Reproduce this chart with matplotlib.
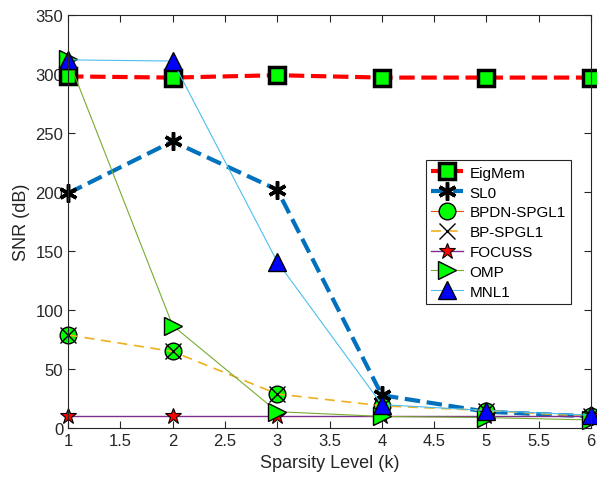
import matplotlib
matplotlib.use('Agg')
import matplotlib.pyplot as plt

# sparsity levels
k = [1, 2, 3, 4, 5, 6]

eigmem = [298, 297, 299, 297, 297, 297]
sl0 = [199, 243, 202, 28, 14, 10]
bpdn = [79, 65, 29, 19, 15, 10]
bp = [79, 65, 29, 19, 15, 10]
focuss = [10, 10, 10, 10, 10, 10]
omp = [313, 87, 14, 10, 9, 7]
mnl1 = [312, 311, 141, 20, 15, 11]

plt.rcParams['font.family'] = ['Liberation Sans', 'DejaVu Sans']

fig = plt.figure(figsize=(5.97, 4.85), dpi=100)
ax = fig.add_axes([0.114, 0.115, 0.876, 0.852])

ax.plot(k, eigmem, '--s', color='red', lw=3, ms=11, mfc=(0, 1, 0), mec='black', mew=2.5, label='EigMem')
ax.plot(k, sl0, '--', marker=(6, 2, 0), color=(0, 0.447, 0.741), lw=3, ms=13, mfc='black', mec='black', mew=2.5, label='SL0')
l_bpdn, = ax.plot(k, bpdn, '-o', color=(0.85, 0.325, 0.098), lw=0.8, ms=12, mfc=(0, 1, 0), mec='black', mew=1, label='BPDN-SPGL1')
ax.plot(k, bp, '--x', color=(0.929, 0.694, 0.125), lw=1.2, ms=11, mfc='none', mec='black', mew=1, label='BP-SPGL1',
        dashes=(6, 4))
ax.plot(k, focuss, '-*', color=(0.494, 0.184, 0.556), lw=1, ms=12, mfc='red', mec='black', mew=0.8, label='FOCUSS')
ax.plot(k, omp, '->', color=(0.466, 0.674, 0.188), lw=0.8, ms=13, mfc=(0, 1, 0), mec='black', mew=1, label='OMP')
ax.plot(k, mnl1, '-^', color=(0.301, 0.745, 0.933), lw=0.8, ms=13, mfc='blue', mec='black', mew=1, label='MNL1')

ax.set_xlim(1, 6)
ax.set_ylim(0, 350)
ax.set_xticks([1, 1.5, 2, 2.5, 3, 3.5, 4, 4.5, 5, 5.5, 6])
ax.set_xticklabels(['1', '1.5', '2', '2.5', '3', '3.5', '4', '4.5', '5', '5.5', '6'])
ax.set_yticks(range(0, 351, 50))
ax.set_xlabel('Sparsity Level (k)', fontsize=13, color='#262626')
ax.set_ylabel('SNR (dB)', fontsize=13, color='#262626')
ax.tick_params(direction='in', top=True, right=True, labelsize=12, colors='#262626', length=5)
for s in ax.spines.values():
    s.set_color('#262626')
    s.set_linewidth(0.8)
for line in ax.lines:
    line.set_clip_on(False)

leg = ax.legend(loc='upper left', bbox_to_anchor=(0.684, 0.648), fontsize=11, fancybox=False,
                edgecolor='#262626', framealpha=1, borderpad=0.35, labelspacing=0.38, handlelength=2.1,
                handletextpad=0.4, borderaxespad=0)
leg.get_frame().set_linewidth(0.8)

# the BPDN line only shows in the legend
l_bpdn.set_linestyle('none')

plt.savefig('out.png', dpi=100)
plt.close()
